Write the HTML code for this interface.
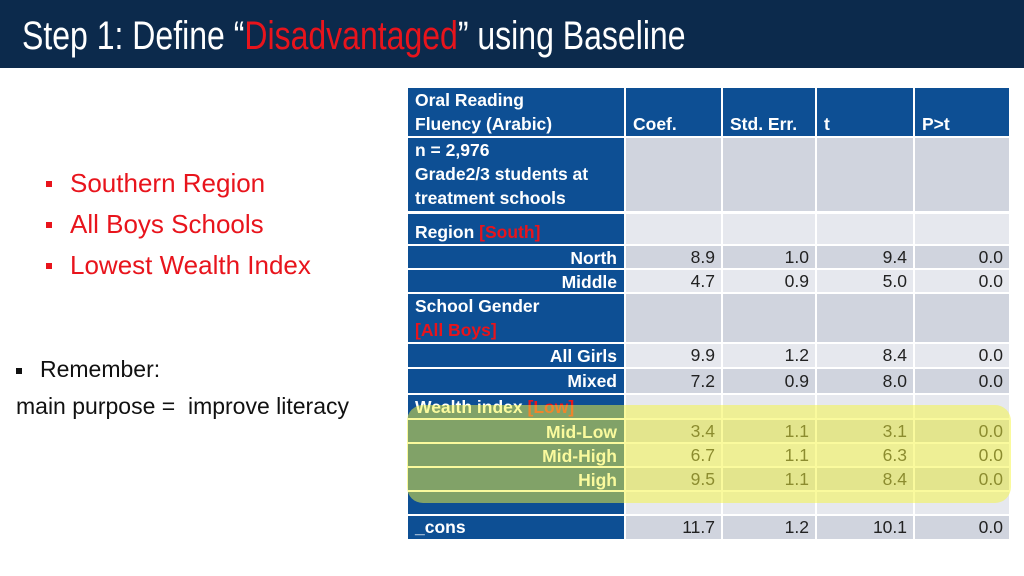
<!DOCTYPE html>
<html><head><meta charset="utf-8">
<style>
body{margin:0;width:1024px;height:576px;position:relative;overflow:hidden;background:#fff;font-family:"Liberation Sans",Arial,sans-serif}
#title-bar{position:absolute;left:0;top:0;width:1024px;height:68px;background:#0c2a4c}
#title{position:absolute;left:22px;top:14px;font-size:40px;color:#fff;white-space:nowrap;transform:scaleX(0.8);transform-origin:left top;line-height:44px}
.red{color:#e8141c}
.b{position:absolute;font-size:26px;color:#e8141c;white-space:nowrap}
.b:before{content:"";position:absolute;left:-24px;top:13px;width:6px;height:6px;background:#e8141c}
.k{position:absolute;font-size:23px;color:#111;white-space:nowrap}
.c{position:absolute;box-sizing:border-box;font-size:17.5px;line-height:24px;overflow:hidden;white-space:nowrap}
.lab{background:#0d4f94;color:#fff;font-weight:bold;padding:0 7px}
.d{color:#222;text-align:right;padding:0 6px}
</style></head><body>
<div id="title-bar"><div id="title">Step 1: Define “<span class="red">Disadvantaged</span>” using Baseline</div></div>
<div class="b" style="left:70px;top:168px">Southern Region</div>
<div class="b" style="left:70px;top:209px">All Boys Schools</div>
<div class="b" style="left:70px;top:250px">Lowest Wealth Index</div>
<div class="k" style="left:16px;top:356px"><span style="display:inline-block;width:6px;height:6px;background:#111;vertical-align:middle;margin-right:18px"></span>Remember:</div>
<div class="k" style="left:16px;top:393px">main purpose =&nbsp; improve literacy</div>
<div id="tbl"></div>
<div style="position:absolute;left:407px;top:405px;width:604px;height:98px;border-radius:16px;background:rgba(245,245,60,0.5)"></div>
<script>
const colX=[408,626,723,817,915,1011];
const rowTop=[88,138,214,246,270,294,344,369,395,420,444,468,492,516];
const rowBot=[136,211,244,268,292,342,367,393,418,442,466,490,514,539];
const labels=['Oral Reading<br>Fluency (Arabic)',' n = 2,976<br>Grade2/3 students at<br>treatment schools','Region <span class="red">[South]</span>','North','Middle','School Gender<br><span class="red">[All Boys]</span>','All Girls','Mixed','<span style="color:#fff">Wealth index</span> <span class="red">[Low]</span>','Mid-Low','Mid-High','High','','_cons'];
const alignRight=[0,0,0,1,1,0,1,1,0,1,1,1,0,0];
const headers=['Coef.','Std. Err.','t','P>t'];
const coef=[null,null,null,8.9,4.7,null,9.9,7.2,null,3.4,6.7,9.5,null,11.7];
const se=[null,null,null,1.0,0.9,null,1.2,0.9,null,1.1,1.1,1.1,null,1.2];
const tval=[null,null,null,9.4,5.0,null,8.4,8.0,null,3.1,6.3,8.4,null,10.1];
const pval=[null,null,null,0.0,0.0,null,0.0,0.0,null,0.0,0.0,0.0,null,0.0];
const cols=[coef,se,tval,pval];
const tbl=document.getElementById('tbl');
for(let r=0;r<rowTop.length;r++){
  const h=rowBot[r]-rowTop[r];
  const l=document.createElement('div');
  l.className='c lab';
  
  
  l.style.cssText=`left:${colX[0]}px;top:${rowTop[r]}px;width:${colX[1]-colX[0]-2}px;height:${h}px;text-align:${alignRight[r]?'right':'left'};padding-top:${r==0?0:(r==2?6:(r==1||r==5||r==8?0:0))}px;`;
  if(r==13) l.style.paddingTop='0px';
  l.innerHTML=labels[r];
  if(r==0||r==13){l.style.display='flex';l.style.flexDirection='column';l.style.justifyContent='flex-end';}
  tbl.appendChild(l);
  for(let c=0;c<4;c++){
    const d=document.createElement('div');
    d.className='c '+(r==0?'lab':'d');
    
    
    const bg=r==0?'#0d4f94':((r%2==1)?'#d0d4de':'#e6e8ee');
    d.style.cssText=`left:${colX[c+1]}px;top:${rowTop[r]}px;width:${colX[c+2]-colX[c+1]-2}px;height:${h}px;background:${bg};`;
    if(r==0){d.textContent=headers[c];d.style.display='flex';d.style.alignItems='flex-end';}
    else if(cols[c][r]!==null){d.textContent=cols[c][r].toFixed(1);d.style.lineHeight=h+'px';}
    tbl.appendChild(d);
  }
}
</script>
</body></html>
